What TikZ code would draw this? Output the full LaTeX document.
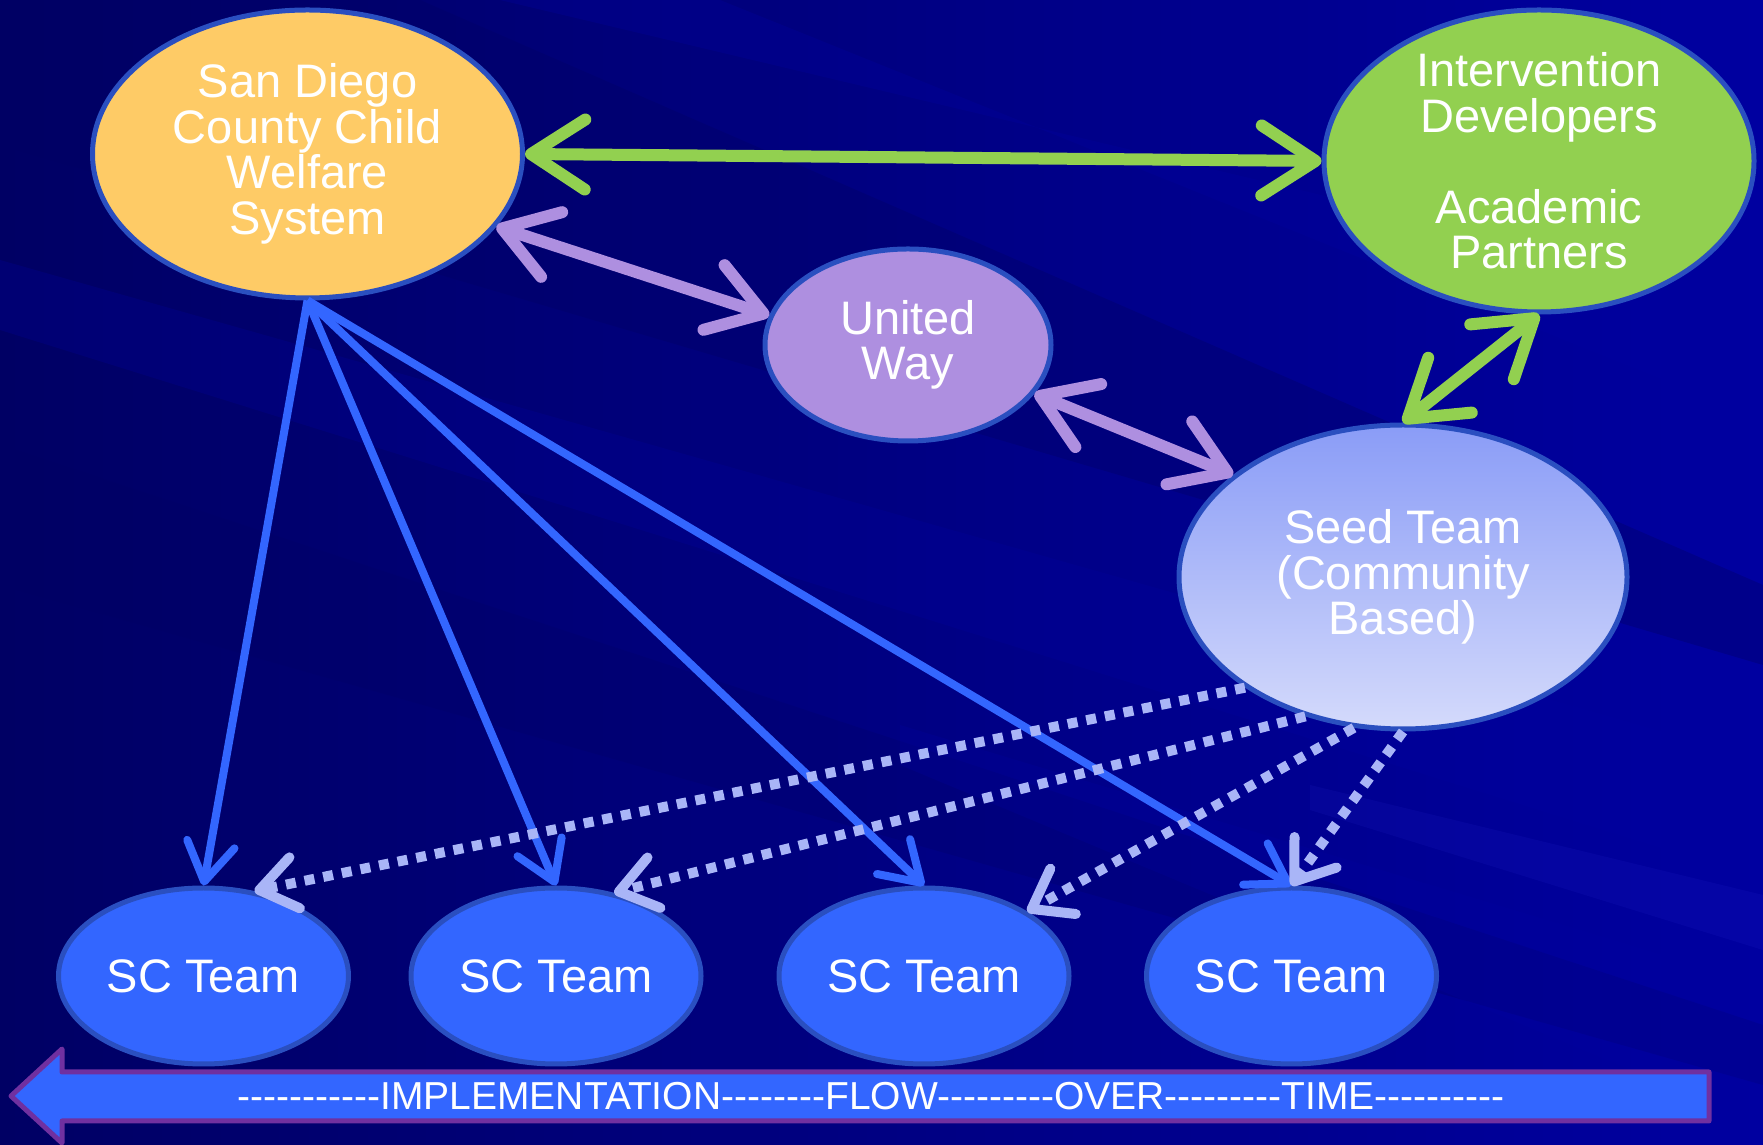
\documentclass[tikz,border=0pt]{standalone}
\usepackage{fontspec}
\setmainfont{Liberation Sans}
\newfontfamily\flowfont{Liberation Sans}
\usetikzlibrary{shapes.geometric,arrows.meta}
\definecolor{bgdark}{HTML}{000064}
\definecolor{bgmid}{HTML}{000088}
\definecolor{bglight}{HTML}{0000A0}
\definecolor{rimblue}{HTML}{2A4FC0}
\definecolor{sdfill}{HTML}{FECB66}
\definecolor{idfill}{HTML}{92D050}
\definecolor{uwfill}{HTML}{AE8FE0}
\definecolor{seedtop}{HTML}{8A9CF7}
\definecolor{seedbot}{HTML}{D4DAFB}
\definecolor{scfill}{HTML}{3366FF}
\definecolor{dotcol}{HTML}{A9B5F7}
\definecolor{flowrim}{HTML}{7030A0}
\tikzset{
  blob/.style={ellipse, draw=rimblue, line width=5pt, inner sep=0pt, text=white,
    align=center, font=\fontsize{47}{45.5}\selectfont},
  scteam/.style={blob, fill=scfill, minimum width=290pt, minimum height=176pt,
    font=\fontsize{47}{47}\selectfont},
  greenarrow/.style={draw=idfill, line width=12pt,
    arrows={Straight Barb[length=54pt,width=70pt,round]-Straight Barb[length=54pt,width=70pt,round]}},
  purplearrow/.style={draw=uwfill, line width=12pt,
    arrows={Straight Barb[length=52pt,width=68pt,round]-Straight Barb[length=52pt,width=68pt,round]}},
  bluearrow/.style={draw=scfill, line width=8pt,
    arrows={-Straight Barb[length=38pt,width=48pt,round]}},
  dotarrow/.style={draw=dotcol, line width=10pt, dash pattern=on 10pt off 9pt,
    arrows={-Straight Barb[length=36pt,width=52pt,round]}},
}
\begin{document}
\begin{tikzpicture}[x=1pt,y=1pt]
\useasboundingbox (0,0) rectangle (1763,1145);
% background
\shade[left color=bgdark, right color=bglight] (0,0) rectangle (1763,1145);
\fill[bgdark, opacity=0.35] (0,1145) -- (420,1145) -- (1763,560) -- (1763,480) -- (0,1000) -- cycle;
\fill[bglight, opacity=0.25] (0,885) -- (0,815) -- (1763,265) -- (1763,385) -- cycle;
\fill[bglight, opacity=0.3] (500,1145) -- (720,1145) -- (1763,725) -- (1763,845) -- cycle;
\fill[bgdark, opacity=0.25] (0,700) -- (1763,120) -- (1763,60) -- (0,560) -- cycle;
\fill[blue!70!white, opacity=0.08] (1310,360) -- (1763,250) -- (1763,195) -- (1310,335) -- cycle;
\fill[bglight, opacity=0.25] (900,420) -- (1763,160) -- (1763,20) -- (900,380) -- cycle;

% nodes
\node[blob, fill=sdfill, minimum width=430pt, minimum height=288pt] (sd) at (307.5,991)
  {San Diego\\County Child\\Welfare\\System};
\node[blob, fill=idfill, minimum width=430pt, minimum height=302pt, inner sep=-14pt] (id) at (1539,984)
  {Intervention\\Developers\\[45.5pt]Academic\\Partners};
\node[blob, fill=uwfill, minimum width=286pt, minimum height=192pt] (uw) at (908,800)
  {United\\Way};
\node[blob, top color=seedtop, bottom color=seedbot, minimum width=448pt, minimum height=304pt] (seed) at (1403,568)
  {Seed Team\\(Community\\Based)};
\node[scteam] (sc1) at (203.5,169) {SC Team};
\node[scteam] (sc2) at (556,169) {SC Team};
\node[scteam] (sc3) at (924,169) {SC Team};
\node[scteam] (sc4) at (1291.5,169) {SC Team};

% connectors
\draw[bluearrow] (sd.south) -- (sc1.north);
\draw[bluearrow] (sd.south) -- (sc2.north);
\draw[bluearrow] (sd.south) -- (sc3.north);
\draw[bluearrow] (sd.south) -- (sc4.north);
\draw[dotarrow] (seed.215) -- (sc1.59);
\draw[dotarrow] (seed.235) -- (sc2.55);
\draw[dotarrow] (seed.252) -- (sc3.32);
\draw[dotarrow] (seed.south) -- (sc4.north);
\draw[greenarrow] (sd.east) -- (id.west);
\draw[greenarrow] (id.south) -- (seed.north);
\draw[purplearrow] (sd.-21) -- (uw.168);
\draw[purplearrow] (uw.-21) -- (seed.149);

% flow arrow
\draw[fill=scfill, draw=flowrim, line width=5pt, line join=round]
  (11,49) -- (62,96) -- (62,73) -- (1709,73) -- (1709,24) -- (62,24) -- (62,2) -- cycle;
\node[text=white, font=\flowfont\fontsize{39}{39}\selectfont, inner sep=0pt] (flow) at (871,49)
  {-----------IMPLEMENTATION--------FLOW---------OVER---------TIME----------};
\end{tikzpicture}
\end{document}
